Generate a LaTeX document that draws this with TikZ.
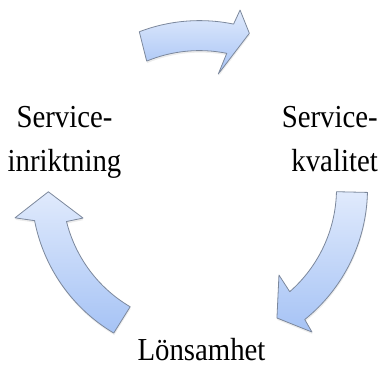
\documentclass[tikz,border=0pt]{standalone}
\usepackage{fontspec}
\setmainfont{Liberation Serif}[FakeStretch=0.9]
\usetikzlibrary{shadows}
\definecolor{arrowtop}{HTML}{E0EAFC}
\definecolor{arrowbot}{HTML}{A6C3F5}
\definecolor{arrowline}{HTML}{7C889C}

\begin{document}
\begin{tikzpicture}[x=1pt,y=1pt,
    cyclearrow/.style={draw=arrowline,line width=0.8pt,line join=round,top color=arrowtop,bottom color=arrowbot,
        drop shadow={opacity=0.15,shadow xshift=0.5pt,shadow yshift=-2pt}},
    lbl/.style={inner sep=0pt,font=\fontsize{32}{44}\selectfont}]
    \useasboundingbox (-199.5,-192.4) rectangle (182.5,188.6);

            \node[lbl,align=center,anchor=base](n1)at(-135,17.6){Service-\\inriktning};
            \node[lbl,align=right,anchor=base east](n2)at(178.5,17.6){Service-\\kvalitet};
            \node[lbl,anchor=base](n3)at(2,-171.4){Lönsamhet};

            %\node[draw,circle,minimum size=336pt](c)at(0,0){};

            \draw[cyclearrow](111:168) arc[start angle=111,end angle=78.3,radius=168pt] -- (77.2:183.1) -- (72.2:163.1)
                -- (80.7:116.1) -- (78.6:138) arc[start angle=78.6,end angle=112.5,radius=138pt] -- cycle;
            \draw[cyclearrow](-1.3:168) arc[start angle=-1.3,end angle=-51.2,radius=168pt] -- (-51.9:182.3) -- (-59.1:150.8)
                -- (-47.4:117.4) -- (-48.8:137) arc[start angle=-48.8,end angle=-1.3,radius=137pt] -- cycle;
            \draw[cyclearrow](239.3:168) arc[start angle=239.3,end angle=191,radius=168pt] -- (189:186.8) -- (181.2:151.2)
                -- (194.2:120.1) -- (193.9:137) arc[start angle=193.9,end angle=239.6,radius=137pt] -- cycle;
\end{tikzpicture}
\end{document}
